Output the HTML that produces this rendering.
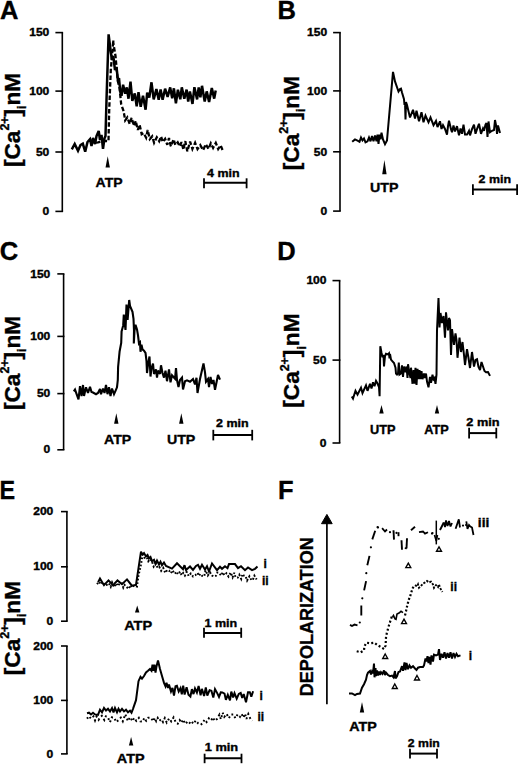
<!DOCTYPE html>
<html><head><meta charset="utf-8"><style>
html,body{margin:0;padding:0;background:#fff;width:520px;height:765px;overflow:hidden}
svg{display:block}
svg text{stroke:#000;stroke-width:0.35px;fill:#000;font-family:"Liberation Sans",sans-serif;font-weight:bold}
</style></head><body>
<svg width="520" height="765" viewBox="0 0 520 765" font-family='"Liberation Sans", sans-serif' font-weight="bold" fill="#000" stroke="#000" stroke-linecap="butt"><g stroke="none"></g><text x="0.0" y="19.3" font-size="25.5">A</text>
<text x="277.5" y="19.3" font-size="25.5">B</text>
<text x="-0.2" y="260.3" font-size="25.5">C</text>
<text x="277.3" y="260.3" font-size="25.5">D</text>
<text x="-0.5" y="498.6" font-size="25.5" textLength="15.6" lengthAdjust="spacingAndGlyphs">E</text>
<text x="278.0" y="498.5" font-size="25.5">F</text>
<line x1="62.3" y1="32.6" x2="62.3" y2="211.4" stroke-width="1.6"/>
<line x1="55.4" y1="32.6" x2="63.1" y2="32.6" stroke-width="1.6"/>
<text x="49.3" y="36.2" font-size="10.2" text-anchor="end" textLength="20.1" lengthAdjust="spacingAndGlyphs">150</text>
<line x1="55.4" y1="91.1" x2="63.1" y2="91.1" stroke-width="1.6"/>
<text x="49.3" y="94.8" font-size="10.2" text-anchor="end" textLength="20.1" lengthAdjust="spacingAndGlyphs">100</text>
<line x1="55.4" y1="152.0" x2="63.1" y2="152.0" stroke-width="1.6"/>
<text x="49.3" y="155.7" font-size="10.2" text-anchor="end" textLength="13.4" lengthAdjust="spacingAndGlyphs">50</text>
<line x1="55.4" y1="211.4" x2="63.1" y2="211.4" stroke-width="1.6"/>
<text x="49.3" y="215.1" font-size="10.2" text-anchor="end" textLength="6.7" lengthAdjust="spacingAndGlyphs">0</text>
<g transform="translate(20.0,167.0) rotate(-90)"><text x="0" y="0" font-size="22.6">[Ca<tspan font-size="12.4" dy="-10.6">2+</tspan><tspan dy="10.6">]</tspan><tspan font-size="12.4" dy="6.3">i</tspan><tspan dy="-6.3">nM</tspan></text></g>
<line x1="340.0" y1="32.6" x2="340.0" y2="211.1" stroke-width="1.6"/>
<line x1="333.1" y1="32.6" x2="340.8" y2="32.6" stroke-width="1.6"/>
<text x="327.2" y="36.2" font-size="10.2" text-anchor="end" textLength="20.1" lengthAdjust="spacingAndGlyphs">150</text>
<line x1="333.1" y1="90.9" x2="340.8" y2="90.9" stroke-width="1.6"/>
<text x="327.2" y="94.6" font-size="10.2" text-anchor="end" textLength="20.1" lengthAdjust="spacingAndGlyphs">100</text>
<line x1="333.1" y1="151.8" x2="340.8" y2="151.8" stroke-width="1.6"/>
<text x="327.2" y="155.5" font-size="10.2" text-anchor="end" textLength="13.4" lengthAdjust="spacingAndGlyphs">50</text>
<line x1="333.1" y1="211.1" x2="340.8" y2="211.1" stroke-width="1.6"/>
<text x="327.2" y="214.8" font-size="10.2" text-anchor="end" textLength="6.7" lengthAdjust="spacingAndGlyphs">0</text>
<g transform="translate(298.5,170.2) rotate(-90)"><text x="0" y="0" font-size="22.6">[Ca<tspan font-size="12.4" dy="-10.6">2+</tspan><tspan dy="10.6">]</tspan><tspan font-size="12.4" dy="6.3">i</tspan><tspan dy="-6.3">nM</tspan></text></g>
<line x1="63.6" y1="273.9" x2="63.6" y2="449.8" stroke-width="1.6"/>
<line x1="57.3" y1="273.9" x2="64.4" y2="273.9" stroke-width="1.6"/>
<text x="50.3" y="277.5" font-size="10.2" text-anchor="end" textLength="20.1" lengthAdjust="spacingAndGlyphs">150</text>
<line x1="57.3" y1="336.4" x2="64.4" y2="336.4" stroke-width="1.6"/>
<text x="50.3" y="340.0" font-size="10.2" text-anchor="end" textLength="20.1" lengthAdjust="spacingAndGlyphs">100</text>
<line x1="57.3" y1="393.6" x2="64.4" y2="393.6" stroke-width="1.6"/>
<text x="50.3" y="397.2" font-size="10.2" text-anchor="end" textLength="13.4" lengthAdjust="spacingAndGlyphs">50</text>
<line x1="57.3" y1="449.8" x2="64.4" y2="449.8" stroke-width="1.6"/>
<text x="50.3" y="453.4" font-size="10.2" text-anchor="end" textLength="6.7" lengthAdjust="spacingAndGlyphs">0</text>
<g transform="translate(20.0,410.0) rotate(-90)"><text x="0" y="0" font-size="22.6">[Ca<tspan font-size="12.4" dy="-10.6">2+</tspan><tspan dy="10.6">]</tspan><tspan font-size="12.4" dy="6.3">i</tspan><tspan dy="-6.3">nM</tspan></text></g>
<line x1="339.6" y1="280.6" x2="339.6" y2="443.0" stroke-width="1.6"/>
<line x1="332.5" y1="280.6" x2="340.4" y2="280.6" stroke-width="1.6"/>
<text x="326.5" y="284.2" font-size="10.2" text-anchor="end" textLength="20.1" lengthAdjust="spacingAndGlyphs">100</text>
<line x1="332.5" y1="360.1" x2="340.4" y2="360.1" stroke-width="1.6"/>
<text x="326.5" y="363.8" font-size="10.2" text-anchor="end" textLength="13.4" lengthAdjust="spacingAndGlyphs">50</text>
<line x1="332.5" y1="443.0" x2="340.4" y2="443.0" stroke-width="1.6"/>
<text x="326.5" y="446.6" font-size="10.2" text-anchor="end" textLength="6.7" lengthAdjust="spacingAndGlyphs">0</text>
<g transform="translate(299.3,407.7) rotate(-90)"><text x="0" y="0" font-size="22.6">[Ca<tspan font-size="12.4" dy="-10.6">2+</tspan><tspan dy="10.6">]</tspan><tspan font-size="12.4" dy="6.3">i</tspan><tspan dy="-6.3">nM</tspan></text></g>
<line x1="66.9" y1="511.6" x2="66.9" y2="621.2" stroke-width="1.6"/>
<line x1="61.0" y1="511.6" x2="67.7" y2="511.6" stroke-width="1.6"/>
<text x="53.3" y="515.2" font-size="10.2" text-anchor="end" textLength="20.1" lengthAdjust="spacingAndGlyphs">200</text>
<line x1="61.0" y1="566.8" x2="67.7" y2="566.8" stroke-width="1.6"/>
<text x="53.3" y="570.4" font-size="10.2" text-anchor="end" textLength="20.1" lengthAdjust="spacingAndGlyphs">100</text>
<line x1="61.0" y1="621.2" x2="67.7" y2="621.2" stroke-width="1.6"/>
<text x="53.3" y="624.9" font-size="10.2" text-anchor="end" textLength="6.7" lengthAdjust="spacingAndGlyphs">0</text>
<line x1="66.9" y1="646.0" x2="66.9" y2="753.9" stroke-width="1.6"/>
<line x1="61.0" y1="646.0" x2="67.7" y2="646.0" stroke-width="1.6"/>
<text x="53.3" y="649.6" font-size="10.2" text-anchor="end" textLength="20.1" lengthAdjust="spacingAndGlyphs">200</text>
<line x1="61.0" y1="700.4" x2="67.7" y2="700.4" stroke-width="1.6"/>
<text x="53.3" y="704.0" font-size="10.2" text-anchor="end" textLength="20.1" lengthAdjust="spacingAndGlyphs">100</text>
<line x1="61.0" y1="753.9" x2="67.7" y2="753.9" stroke-width="1.6"/>
<text x="53.3" y="757.5" font-size="10.2" text-anchor="end" textLength="6.7" lengthAdjust="spacingAndGlyphs">0</text>
<g transform="translate(20.0,675.2) rotate(-90)"><text x="0" y="0" font-size="22.6">[Ca<tspan font-size="12.4" dy="-10.6">2+</tspan><tspan dy="10.6">]</tspan><tspan font-size="12.4" dy="6.3">i</tspan><tspan dy="-6.3">nM</tspan></text></g>
<line x1="204.0" y1="182.8" x2="246.6" y2="182.8" stroke-width="2.0"/>
<line x1="204.0" y1="178.3" x2="204.0" y2="188.3" stroke-width="1.8"/>
<line x1="246.6" y1="178.3" x2="246.6" y2="188.3" stroke-width="1.8"/>
<text x="207.0" y="177.0" font-size="10.8" textLength="32.5" lengthAdjust="spacingAndGlyphs">4 min</text>
<line x1="472.9" y1="189.6" x2="517.1" y2="189.6" stroke-width="2.0"/>
<line x1="472.9" y1="184.3" x2="472.9" y2="194.9" stroke-width="1.8"/>
<line x1="517.1" y1="184.3" x2="517.1" y2="194.9" stroke-width="1.8"/>
<text x="478.6" y="182.8" font-size="10.3" textLength="32.4" lengthAdjust="spacingAndGlyphs">2 min</text>
<line x1="213.3" y1="434.9" x2="252.2" y2="434.9" stroke-width="2.0"/>
<line x1="213.3" y1="429.8" x2="213.3" y2="440.4" stroke-width="1.8"/>
<line x1="252.2" y1="429.8" x2="252.2" y2="440.4" stroke-width="1.8"/>
<text x="216.0" y="427.0" font-size="10.0" textLength="32.6" lengthAdjust="spacingAndGlyphs">2 min</text>
<line x1="469.1" y1="433.1" x2="496.3" y2="433.1" stroke-width="2.0"/>
<line x1="469.1" y1="427.8" x2="469.1" y2="438.4" stroke-width="1.8"/>
<line x1="496.3" y1="427.8" x2="496.3" y2="438.4" stroke-width="1.8"/>
<text x="466.3" y="425.5" font-size="10.0" textLength="33.3" lengthAdjust="spacingAndGlyphs">2 min</text>
<line x1="204.0" y1="632.9" x2="241.2" y2="632.9" stroke-width="2.0"/>
<line x1="204.0" y1="627.7" x2="204.0" y2="637.8" stroke-width="1.8"/>
<line x1="241.2" y1="627.7" x2="241.2" y2="637.8" stroke-width="1.8"/>
<text x="204.5" y="627.1" font-size="10.8" textLength="32.7" lengthAdjust="spacingAndGlyphs">1 min</text>
<line x1="204.6" y1="758.2" x2="241.5" y2="758.2" stroke-width="2.0"/>
<line x1="204.6" y1="753.7" x2="204.6" y2="763.2" stroke-width="1.8"/>
<line x1="241.5" y1="753.7" x2="241.5" y2="763.2" stroke-width="1.8"/>
<text x="204.7" y="751.2" font-size="10.8" textLength="33.5" lengthAdjust="spacingAndGlyphs">1 min</text>
<line x1="410.0" y1="753.6" x2="437.0" y2="753.6" stroke-width="2.0"/>
<line x1="410.0" y1="748.8" x2="410.0" y2="758.4" stroke-width="1.8"/>
<line x1="437.0" y1="748.8" x2="437.0" y2="758.4" stroke-width="1.8"/>
<text x="407.8" y="747.0" font-size="10.8" textLength="32.0" lengthAdjust="spacingAndGlyphs">2 min</text>
<polygon points="107.7,156.3 109.9,167.5 105.5,167.5" fill="#000" stroke="none"/>
<text x="95.6" y="186.7" font-size="12.9" textLength="27.0" lengthAdjust="spacingAndGlyphs">ATP</text>
<polygon points="384.4,160.0 386.6,174.2 382.2,174.2" fill="#000" stroke="none"/>
<text x="370.0" y="192.2" font-size="12.9" textLength="28.5" lengthAdjust="spacingAndGlyphs">UTP</text>
<polygon points="116.3,413.3 118.5,423.8 114.1,423.8" fill="#000" stroke="none"/>
<text x="104.0" y="443.5" font-size="12.9" textLength="27.2" lengthAdjust="spacingAndGlyphs">ATP</text>
<polygon points="181.3,413.3 183.5,423.8 179.1,423.8" fill="#000" stroke="none"/>
<text x="166.9" y="443.5" font-size="12.9" textLength="28.5" lengthAdjust="spacingAndGlyphs">UTP</text>
<polygon points="381.5,405.0 383.7,413.6 379.3,413.6" fill="#000" stroke="none"/>
<text x="370.0" y="434.4" font-size="12.0" textLength="25.5" lengthAdjust="spacingAndGlyphs">UTP</text>
<polygon points="437.0,405.0 439.2,413.6 434.8,413.6" fill="#000" stroke="none"/>
<text x="424.3" y="434.4" font-size="12.0" textLength="24.5" lengthAdjust="spacingAndGlyphs">ATP</text>
<polygon points="137.2,605.6 139.4,612.4 135.0,612.4" fill="#000" stroke="none"/>
<text x="124.2" y="630.2" font-size="12.9" textLength="28.0" lengthAdjust="spacingAndGlyphs">ATP</text>
<polygon points="131.1,737.0 133.3,745.5 128.9,745.5" fill="#000" stroke="none"/>
<text x="116.8" y="763.2" font-size="12.9" textLength="27.8" lengthAdjust="spacingAndGlyphs">ATP</text>
<polygon points="362.0,702.0 364.2,712.5 359.8,712.5" fill="#000" stroke="none"/>
<text x="349.2" y="731.0" font-size="12.0" textLength="27.5" lengthAdjust="spacingAndGlyphs">ATP</text>
<polyline points="71.8,149.3 74.7,144.0 78.0,150.8 80.5,145.0 82.8,143.6 85.2,151.7 87.5,142.0 90.0,139.2 91.5,146.0 93.0,138.0 95.0,144.0 96.5,136.0 98.7,131.0 100.0,140.0 101.5,135.0 103.0,148.8 104.5,138.3 105.5,136.0 106.5,100.0 108.6,34.4 110.5,50.0 112.0,60.0 113.3,56.0 115.0,70.0 116.5,67.0 118.0,81.0 119.0,78.0 120.3,92.0 121.5,95.9 123.1,84.7 125.2,93.8 126.8,87.4 128.5,98.7 130.5,81.7 132.3,100.9 134.8,93.5 136.7,106.4 138.5,92.1 140.7,106.8 143.0,95.7 145.6,109.7 147.2,92.7 149.3,97.5 151.5,82.3 153.7,99.4 156.4,89.1 158.7,99.7 160.6,89.6 162.6,99.7 165.1,88.7 167.6,96.9 170.2,87.4 172.2,98.3 173.9,88.3 175.9,103.4 177.9,89.8 180.3,99.3 181.8,87.3 184.3,98.8 186.6,89.6 188.2,101.5 189.9,91.4 192.5,103.9 194.4,87.2 197.1,99.4 198.7,87.4 200.4,97.3 202.0,85.8 204.7,101.5 206.7,91.4 209.1,101.9 211.8,88.1 214.2,98.6 215.7,90.5" fill="none" stroke-width="2.5" stroke-linejoin="miter" stroke-miterlimit="3"/>
<polyline points="96.0,142.6 98.0,142.3 100.0,141.9 102.0,141.5 104.0,141.2 106.0,141.0 108.5,141.0 109.2,110.0 110.8,70.0 113.3,40.2 113.3,42.8 115.5,56.0 117.7,80.5 119.6,88.6 121.2,104.3 123.6,111.1 125.2,120.4 127.3,117.4 129.7,124.1 131.6,117.9 134.1,125.9 135.7,120.9 137.8,130.0 139.6,124.7 141.7,134.2 143.6,133.1 146.1,137.7 147.7,130.0 149.8,139.1 152.2,136.4 154.1,142.8 156.8,137.3 159.2,141.2 161.1,136.5 162.7,142.0 165.1,138.8 167.3,144.8 169.0,138.0 170.8,146.3 173.6,139.3 175.3,145.0 177.7,142.3 179.7,146.4 181.5,142.1 183.4,149.7 185.3,141.1 187.3,151.4 190.1,141.6 192.4,149.0 195.1,142.8 197.5,149.1 200.3,145.1 203.1,150.1 205.8,144.2 208.5,149.0 210.8,143.3 213.1,147.9 215.8,142.9 218.2,149.1 220.7,145.3 222.5,150.0" fill="none" stroke-width="2.3" stroke-linejoin="miter" stroke-miterlimit="3" stroke-dasharray="4.5,2.2"/>
<polyline points="352.2,141.8 355.0,139.4 358.0,140.9 359.5,141.8 361.0,137.5 362.5,140.4 364.0,138.5 365.5,142.3 367.5,141.3 369.0,137.5 370.5,141.3 372.0,136.1 373.5,141.3 375.0,135.6 376.5,141.3 377.5,134.6 378.5,143.8 379.5,134.6 380.5,139.4 381.5,132.7 383.0,139.4 385.0,144.2 387.0,140.4 393.0,71.9 395.0,81.4 398.5,91.5 400.0,89.1 401.0,88.7 402.0,92.5 404.0,99.2 404.5,105.0 405.0,102.0 405.5,119.4 406.0,102.0 407.0,105.0 410.0,117.5 413.0,109.8 415.0,118.5 416.5,110.8 419.0,121.3 421.5,112.2 423.5,122.3 425.5,115.6 428.5,122.3 430.5,117.5 433.5,125.2 436.0,120.9 437.5,127.1 440.0,121.3 441.5,129.0 443.0,125.2 445.0,129.0 447.0,134.6 448.0,126.2 449.0,120.8 451.0,129.2 452.0,132.3 453.5,125.4 455.0,131.5 457.0,126.2 459.0,135.4 460.5,128.5 462.0,133.8 463.5,124.6 465.0,134.6 467.0,134.6 469.0,130.8 470.0,135.4 472.0,129.2 474.0,124.6 475.5,133.8 477.0,129.2 479.0,123.8 481.0,133.8 483.0,128.5 484.0,130.8 485.5,124.6 486.5,123.0 487.5,136.9 488.5,121.5 490.0,132.3 492.0,130.8 494.0,130.0 495.0,120.0 496.5,127.7 497.0,133.8 498.0,125.4 500.0,133.0" fill="none" stroke-width="2.0" stroke-linejoin="miter" stroke-miterlimit="3"/>
<polyline points="73.8,391.3 75.0,389.6 78.5,399.4 80.0,386.2 81.5,396.0 83.0,385.0 84.0,396.0 86.0,387.3 88.0,393.0 90.0,386.7 91.5,392.0 93.0,392.5 96.0,394.2 98.0,393.0 100.0,389.0 101.0,394.2 103.0,388.5 104.5,393.0 106.0,385.0 107.5,394.2 109.0,387.3 110.5,396.0 112.0,388.5 114.0,394.2 115.5,390.8 117.0,387.3 117.8,380.0 118.1,367.0 119.6,351.5 121.2,343.0 121.6,331.5 123.2,325.4 123.8,314.6 125.5,330.0 126.5,304.6 127.6,320.0 129.2,300.0 130.0,305.9 132.5,311.8 133.5,318.8 134.0,330.6 133.8,343.5 134.5,330.6 135.5,324.7 137.0,329.4 138.0,335.3 139.0,343.5 140.0,342.4 140.5,351.8 141.5,344.7 142.5,349.4 144.0,350.6 145.5,352.9 146.5,361.2 147.0,373.0 148.0,364.7 149.5,356.5 150.5,376.5 151.5,368.2 153.0,363.5 154.0,374.0 156.0,369.4 157.0,377.6 158.0,370.6 160.0,374.0 161.0,365.3 162.5,373.0 164.0,377.6 165.5,370.6 167.0,381.2 169.0,369.4 170.5,382.4 172.0,375.3 175.0,378.8 176.0,368.2 177.0,380.0 178.5,387.0 180.0,380.0 182.0,377.6 183.0,389.4 185.0,381.2 187.0,380.4 190.0,381.7 193.0,379.0 195.0,384.4 196.5,377.7 197.5,393.0 200.0,379.0 203.5,363.5 205.0,372.3 206.0,381.7 208.0,379.0 209.0,387.0 210.5,377.0 212.0,384.0 213.5,380.0 215.0,389.8 218.0,375.0 220.0,379.7" fill="none" stroke-width="2.1" stroke-linejoin="miter" stroke-miterlimit="3"/>
<polyline points="351.8,396.5 353.0,398.5 355.5,390.8 357.5,394.6 361.0,387.7 362.5,393.0 366.0,385.4 367.5,390.8 370.0,383.8 371.5,388.5 373.0,382.3 374.5,386.2 376.0,380.8 377.5,383.5 379.0,387.0 379.6,396.2 380.3,346.3 381.5,352.7 382.5,357.3 383.5,355.0 384.0,366.5 385.0,356.2 386.0,353.8 388.0,354.4 389.0,353.3 389.5,358.5 390.0,353.8 391.0,359.6 392.5,361.3 394.0,363.0 395.5,367.7 396.0,373.5 397.0,374.6 398.0,373.5 398.8,362.5 399.5,374.6 401.0,373.5 402.0,365.4 403.0,376.9 404.0,366.5 405.5,372.3 406.5,366.5 407.5,378.0 408.0,364.2 409.5,373.5 410.5,378.0 411.0,367.7 412.5,383.8 413.5,370.0 414.5,383.8 415.5,367.7 416.5,385.0 417.5,368.8 418.5,379.2 419.5,370.0 420.5,379.2 421.5,371.2 422.5,379.2 424.0,373.5 425.0,378.0 426.0,373.5 427.0,381.5 428.5,387.3 430.0,377.0 431.0,382.7 432.5,374.6 433.5,379.2 434.5,378.0 435.5,383.8 436.5,374.6 437.0,330.4 438.5,298.0 439.5,327.5 440.5,313.0 442.0,323.0 443.5,316.0 445.0,337.6 446.0,312.4 447.0,322.0 448.0,330.4 449.0,318.0 450.0,320.3 451.0,355.0 452.0,329.0 453.0,337.0 454.0,344.8 455.5,333.3 456.5,340.0 457.5,357.8 459.5,337.6 461.0,352.0 462.5,342.0 464.0,355.0 465.0,365.0 467.0,349.2 468.5,358.0 470.0,368.0 472.0,352.0 474.0,366.5 475.5,360.0 477.0,359.3 478.5,367.0 480.0,370.0 481.5,362.0 483.0,366.5 484.5,371.0 486.0,372.3 488.0,372.0 490.0,375.9" fill="none" stroke-width="2.0" stroke-linejoin="miter" stroke-miterlimit="3"/>
<polyline points="98.1,582.3 100.0,578.5 104.0,585.2 108.5,580.4 113.0,585.2 117.5,580.4 122.0,584.2 127.0,579.4 131.5,585.2 134.0,585.4 136.0,584.7 141.0,551.7 142.5,554.4 144.0,553.0 146.0,556.4 147.5,555.0 149.0,558.5 150.5,557.0 152.0,561.2 154.0,559.8 155.5,563.8 157.0,560.5 159.0,564.5 160.5,561.8 162.0,565.2 164.0,562.5 166.0,565.9 172.0,568.6 177.0,563.2 183.0,569.2 184.5,565.2 186.0,569.9 190.0,566.5 193.0,569.9 196.0,565.9 198.0,564.8 200.0,568.8 202.0,564.8 205.0,569.5 207.0,566.2 209.0,571.5 212.0,563.5 217.0,570.2 220.0,566.8 222.0,568.8 225.0,566.2 227.5,568.2 229.0,564.1 235.0,564.1 238.0,568.2 241.0,566.2 245.0,570.2 248.0,567.5 252.0,570.2 255.0,568.8 257.5,566.5" fill="none" stroke-width="2.0" stroke-linejoin="miter" stroke-miterlimit="3"/>
<polyline points="97.0,584.1 99.0,581.7 101.1,584.3 102.5,582.0 104.8,585.2 106.5,585.0 108.8,583.3 110.7,586.8 112.1,582.5 114.2,587.0 116.3,583.2 117.8,585.9 119.5,583.7 121.8,583.3 123.3,587.6 124.6,585.0 126.6,587.0 128.6,588.8 130.7,585.2 132.1,587.6 133.6,585.8 135.4,586.0 137.0,586.5 138.4,576.0 140.7,565.9 143.0,552.8 144.6,557.8 146.8,557.2 148.3,561.2 150.0,558.9 151.7,560.7 153.7,566.5 155.8,563.6 157.7,567.9 159.4,567.1 161.2,570.8 163.3,568.1 165.2,572.8 167.3,570.0 169.0,570.6 171.0,573.2 172.5,570.4 174.8,573.7 176.6,571.7 177.9,574.3 180.1,571.7 181.6,575.2 183.2,573.0 184.9,575.6 186.7,572.0 188.7,575.9 190.8,573.5 193.1,576.4 195.3,575.3 197.6,573.0 198.9,575.8 200.3,573.9 202.1,575.9 204.2,576.3 205.6,570.5 207.8,575.5 210.1,572.5 212.2,575.7 214.2,576.5 216.0,575.8 217.4,572.6 218.8,572.9 221.1,575.5 222.8,572.3 224.3,575.2 226.4,573.3 228.5,576.5 230.6,572.6 232.6,577.3 234.2,572.9 235.6,577.3 237.8,577.5 239.3,574.8 241.2,578.9 242.5,574.1 244.3,576.0 245.7,576.5 247.1,580.5 249.4,576.3 251.3,579.9 252.8,579.9 254.4,575.7 256.6,579.4" fill="none" stroke-width="2.0" stroke-linejoin="miter" stroke-miterlimit="3" stroke-dasharray="1.7,1.9"/>
<polyline points="87.0,713.2 89.0,712.7 91.0,714.4 93.0,712.7 95.0,714.4 98.0,714.9 100.0,709.7 102.0,712.3 104.0,708.0 106.0,710.6 108.0,708.8 110.0,711.4 112.0,708.0 113.5,712.3 115.0,708.0 117.0,712.3 118.5,708.8 120.0,711.4 122.0,708.8 124.0,711.4 126.0,709.7 128.0,712.3 130.0,710.6 131.5,712.7 133.0,708.8 136.0,700.2 138.5,681.2 140.5,676.8 142.0,678.6 144.0,676.0 146.0,672.5 148.0,670.8 150.0,669.0 151.5,670.8 152.5,664.7 153.5,670.8 154.5,664.7 155.5,672.5 156.5,666.4 158.0,660.4 160.0,669.0 162.0,676.0 164.0,682.9 165.5,686.3 166.5,682.9 168.0,688.0 169.0,684.6 171.0,691.5 172.5,688.0 174.0,695.6 175.5,686.2 176.9,685.8 178.7,691.5 180.5,688.2 181.8,694.4 183.2,685.7 184.6,694.6 186.6,687.3 188.5,694.7 190.4,696.5 191.9,689.1 193.5,694.1 195.0,688.5 196.9,692.5 198.6,686.0 200.6,695.2 201.9,688.9 204.1,696.0 205.8,687.5 207.3,695.5 209.6,690.2 211.4,690.7 213.3,697.6 215.0,689.1 217.2,693.1 219.0,696.9 220.8,692.3 222.3,692.4 224.5,693.6 225.9,699.9 227.8,694.8 230.0,700.4 231.3,691.6 233.1,697.4 234.5,693.1 236.7,698.6 238.8,693.9 240.7,692.9 242.2,698.0 243.7,694.1 246.0,702.3 248.0,692.2 249.8,692.3 251.3,696.7 253.1,691.2" fill="none" stroke-width="2.0" stroke-linejoin="miter" stroke-miterlimit="3"/>
<polyline points="87.0,718.7 89.0,716.1 91.0,718.7 93.4,716.4 95.0,720.4 96.5,716.5 98.6,719.8 100.1,717.4 101.8,715.9 104.3,720.0 105.8,716.4 107.6,716.7 110.0,722.2 111.8,717.4 113.9,717.5 116.4,722.1 118.6,719.9 120.8,717.6 122.8,721.3 125.3,714.2 127.9,721.1 130.1,717.2 132.5,721.2 134.1,717.9 136.3,720.8 138.8,717.9 140.4,721.4 142.6,721.7 144.3,717.9 146.2,720.8 148.3,717.8 150.9,717.8 153.2,721.3 154.7,717.8 156.2,721.1 157.7,718.0 159.2,721.0 161.4,719.1 163.0,722.0 164.8,718.1 166.7,722.5 169.1,718.4 171.2,721.4 173.6,717.4 176.0,722.9 177.7,723.7 179.7,720.2 181.5,722.9 183.1,719.6 185.4,724.0 187.8,721.2 190.4,723.6 191.8,721.7 193.5,723.8 195.7,720.5 198.2,723.4 200.6,724.8 202.4,723.5 204.6,719.5 206.6,722.0 208.8,718.4 211.0,720.5 213.0,717.4 214.5,720.9 217.0,719.0 219.4,714.8 220.9,719.3 222.6,712.7 224.3,716.9 226.7,714.0 228.8,718.1 231.2,714.5 233.4,714.4 235.3,718.2 237.7,714.3 240.0,716.8 241.6,714.1 243.6,717.6 245.0,713.7 246.4,718.9 248.3,714.0 250.4,718.8 252.2,720.8" fill="none" stroke-width="2.0" stroke-linejoin="miter" stroke-miterlimit="3" stroke-dasharray="1.8,2.6"/>
<text x="263.6" y="567.7" font-size="12.0">i</text>
<text x="262.0" y="585.0" font-size="12.0">ii</text>
<text x="259.4" y="700.3" font-size="12.0">i</text>
<text x="257.4" y="721.0" font-size="12.0">ii</text>
<line x1="326.9" y1="521.0" x2="326.9" y2="704.2" stroke-width="1.7"/>
<polygon points="326.9,514.4 332.2,523.7 321.5,523.7" fill="#000"/>
<g transform="translate(312.7,696.2) rotate(-90)"><text x="0" y="0" font-size="18.5" textLength="159" lengthAdjust="spacingAndGlyphs">DEPOLARIZATION</text></g>
<polyline points="349.0,693.5 352.0,693.5 355.0,695.2 357.0,694.0 360.0,693.5 362.0,687.7 364.0,684.2 366.0,679.6 367.0,675.0 368.0,672.7 370.0,671.0 371.0,674.4 372.0,671.5 373.0,673.3 374.0,663.5 374.5,677.3 375.5,668.0 376.0,676.2 377.0,670.4 378.0,675.6 379.0,671.5 380.0,675.0 381.0,672.1 382.5,673.8 384.0,670.4 385.0,675.0 386.0,672.7 388.0,675.0 390.0,676.2 392.0,675.6 393.5,677.3 395.0,671.0 395.5,678.5 397.0,676.2 398.5,672.0 400.0,671.5 402.0,666.2 403.0,670.8 404.5,662.3 405.5,670.0 406.5,663.0 408.0,669.2 409.5,665.4 411.0,667.7 413.0,666.2 415.0,668.5 416.5,670.0 418.0,667.7 420.0,667.0 423.0,667.0 424.0,665.4 425.5,658.5 426.5,661.5 427.5,656.2 428.5,663.0 429.5,657.0 430.5,664.6 431.5,655.4 433.0,661.5 434.0,654.6 436.0,655.4 438.0,654.6 439.0,649.2 440.0,660.0 441.5,653.8 443.0,657.7 444.5,652.3 446.0,658.5 447.5,653.0 449.0,657.7 450.5,652.3 452.0,658.5 453.5,653.0 455.0,657.0 456.5,653.8 458.0,656.2 460.5,655.4" fill="none" stroke-width="2.0" stroke-linejoin="miter" stroke-miterlimit="3"/>
<polyline points="356.7,651.3 360.6,652.3 364.0,650.4 364.4,646.3 366.5,642.7 370.2,643.2 374.2,642.7 377.4,645.1 380.8,647.0 384.1,649.0 385.6,645.6 385.8,641.3 386.0,637.4 386.8,633.1 388.0,628.8 389.0,625.2 390.3,621.1 392.0,616.0" fill="none" stroke-width="2.2" stroke-linejoin="miter" stroke-miterlimit="3" stroke-dasharray="2.0,2.2"/>
<polyline points="392.5,617.0 393.5,615.4 395.0,619.0 396.0,619.4 397.0,614.0 399.0,613.0 401.0,611.3 403.0,612.7" fill="none" stroke-width="1.6" stroke-linejoin="miter" stroke-miterlimit="3"/>
<polyline points="405.0,615.4 406.0,611.3 407.0,606.6 408.0,602.6 409.0,599.2 410.5,595.2 411.5,591.8 412.5,588.5 414.0,585.8" fill="none" stroke-width="2.2" stroke-linejoin="miter" stroke-miterlimit="3" stroke-dasharray="2.0,2.0"/>
<polyline points="415.0,585.1 417.0,586.4 418.0,584.4 419.0,587.8 421.0,585.8 423.0,583.7 425.0,582.4 427.0,581.0 429.0,582.4 431.0,581.7 433.0,584.4 434.0,587.8 436.0,585.1 438.0,587.1 439.0,584.4 440.0,587.8 441.5,590.5 442.5,591.8" fill="none" stroke-width="1.9" stroke-linejoin="miter" stroke-miterlimit="3" stroke-dasharray="2.2,1.4"/>
<polyline points="350.0,624.9 352.0,626.0 354.5,624.6 357.5,625.4" fill="none" stroke-width="1.9" stroke-linejoin="miter" stroke-miterlimit="3"/>
<circle cx="359.8" cy="622.5" r="1.1" stroke="none"/>
<circle cx="362.3" cy="598.3" r="1.1" stroke="none"/>
<circle cx="366.3" cy="573.2" r="1.1" stroke="none"/>
<circle cx="370.9" cy="547.3" r="1.1" stroke="none"/>
<circle cx="377.6" cy="527.2" r="1.1" stroke="none"/>
<circle cx="378.0" cy="527.5" r="1.1" stroke="none"/>
<circle cx="390.0" cy="532.2" r="1.1" stroke="none"/>
<circle cx="396.5" cy="532.9" r="1.1" stroke="none"/>
<circle cx="432.0" cy="533.6" r="1.1" stroke="none"/>
<circle cx="432.5" cy="533.1" r="1.1" stroke="none"/>
<circle cx="438.8" cy="538.8" r="1.1" stroke="none"/>
<circle cx="463.0" cy="525.6" r="1.1" stroke="none"/>
<line x1="361.3" y1="605.5" x2="361.3" y2="615.5" stroke-width="1.9"/>
<line x1="364.1" y1="590.4" x2="366.1" y2="581.1" stroke-width="1.9"/>
<line x1="367.3" y1="565.3" x2="369.5" y2="555.9" stroke-width="1.9"/>
<line x1="372.3" y1="539.4" x2="375.2" y2="530.8" stroke-width="1.9"/>
<line x1="393.5" y1="530.2" x2="394.0" y2="539.6" stroke-width="1.9"/>
<line x1="398.5" y1="532.2" x2="398.5" y2="536.2" stroke-width="1.9"/>
<line x1="401.5" y1="540.3" x2="402.0" y2="549.7" stroke-width="1.9"/>
<line x1="407.0" y1="538.3" x2="406.5" y2="548.4" stroke-width="1.9"/>
<line x1="411.0" y1="530.2" x2="415.0" y2="526.8" stroke-width="1.9"/>
<line x1="440.0" y1="530.0" x2="443.8" y2="522.5" stroke-width="1.9"/>
<polyline points="382.1,528.2 385.0,531.5 387.0,529.5" fill="none" stroke-width="1.8" stroke-linejoin="miter" stroke-miterlimit="3"/>
<polyline points="404.8,548.2 406.8,548.4" fill="none" stroke-width="1.8" stroke-linejoin="miter" stroke-miterlimit="3"/>
<polyline points="419.0,532.2 423.0,531.5 425.0,533.6 428.0,532.2" fill="none" stroke-width="1.8" stroke-linejoin="miter" stroke-miterlimit="3"/>
<line x1="436.3" y1="520.6" x2="436.3" y2="544.4" stroke-width="1.5"/>
<polyline points="434.5,535.0 436.3,541.0 437.5,535.0" fill="none" stroke-width="1.6" stroke-linejoin="miter" stroke-miterlimit="3"/>
<polyline points="443.8,522.5 445.0,527.0 446.0,520.5 447.5,526.0 449.0,521.0 450.5,526.5 452.0,523.0" fill="none" stroke-width="1.8" stroke-linejoin="miter" stroke-miterlimit="3"/>
<polyline points="455.6,528.8 458.8,519.4 460.0,527.5" fill="none" stroke-width="1.8" stroke-linejoin="miter" stroke-miterlimit="3"/>
<line x1="465.0" y1="525.0" x2="467.0" y2="525.0" stroke-width="1.6"/>
<polyline points="466.3,521.3 467.5,528.8 469.0,525.0 470.0,526.3 472.0,527.5 473.5,535.0" fill="none" stroke-width="1.8" stroke-linejoin="miter" stroke-miterlimit="3"/>
<polygon points="394.8,684.0 397.3,688.5 392.3,688.5" fill="none" stroke="#000" stroke-width="1.35"/>
<polygon points="417.0,675.5 419.5,680.0 414.5,680.0" fill="none" stroke="#000" stroke-width="1.35"/>
<polygon points="385.2,654.0 387.7,658.5 382.7,658.5" fill="none" stroke="#000" stroke-width="1.35"/>
<polygon points="404.0,619.1 406.5,623.6 401.5,623.6" fill="none" stroke="#000" stroke-width="1.35"/>
<polygon points="408.3,563.1 410.8,567.6 405.8,567.6" fill="none" stroke="#000" stroke-width="1.35"/>
<polygon points="439.0,546.8 441.5,551.2 436.5,551.2" fill="none" stroke="#000" stroke-width="1.35"/>
<text x="468.8" y="660.0" font-size="12.0">i</text>
<text x="450.3" y="590.5" font-size="12.0">ii</text>
<text x="477.8" y="527.3" font-size="12.5" textLength="11.5" lengthAdjust="spacingAndGlyphs">iii</text></svg>
</body></html>
